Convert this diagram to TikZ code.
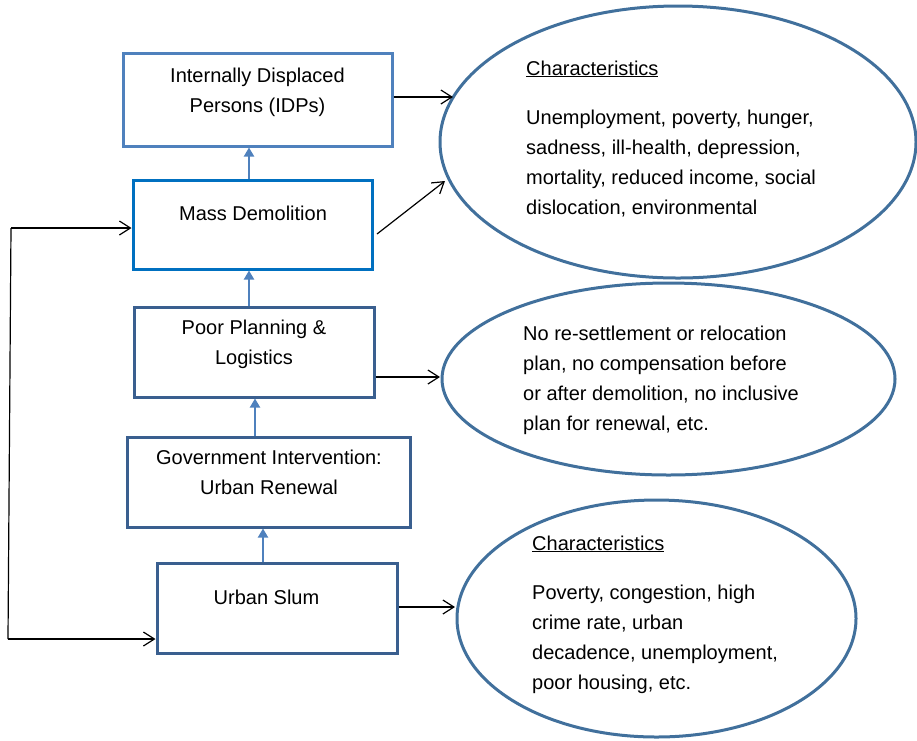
\documentclass[tikz,border=0pt]{standalone}
\usepackage{fontspec}
\setmainfont{Liberation Sans}
\usetikzlibrary{arrows.meta,shapes.geometric}
\definecolor{boxA}{HTML}{4F81BD}
\definecolor{boxB}{HTML}{0070C0}
\definecolor{boxC}{HTML}{3A5F8F}
\definecolor{ellc}{HTML}{41709C}
\definecolor{uparc}{HTML}{4F81BD}
\begin{document}
\begin{tikzpicture}[x=1pt,y=-1pt,
  box/.style={draw=#1, line width=3pt, rectangle, inner sep=0pt, fill=white},
  oval/.style={draw=ellc, line width=3pt, ellipse, inner sep=0pt},
  txt/.style={font=\fontsize{20}{30}\selectfont, inner sep=0pt, align=center, anchor=base},
  ltxt/.style={font=\fontsize{20}{30}\selectfont, inner sep=0pt, align=left, anchor=base west},
  uparr/.style={draw=uparc, line width=2pt, -{Triangle[length=9pt,width=10pt]}},
  blk/.style={draw=black, line width=1.2pt, -{Straight Barb[length=11pt,width=14pt]}},
  fbline/.style={draw=black, line width=1.2pt}
]
\useasboundingbox (0,0) rectangle (917,740);

% boxes
\node[box=boxA, minimum width=269pt, minimum height=93pt] (idp) at (257.5,99.5) {};
\node[box=boxB, minimum width=239pt, minimum height=89pt] (md) at (252.5,224.5) {};
\node[box=boxC, minimum width=240pt, minimum height=90pt] (pp) at (254,352) {};
\node[box=boxC, minimum width=283pt, minimum height=90pt] (gi) at (268.5,482) {};
\node[box=boxC, minimum width=240pt, minimum height=90pt] (us) at (277,608) {};

% box texts (base anchor = baseline of the last line)
\node[txt] (idpT) at (257.5,112) {Internally Displaced\\Persons (IDPs)};
\node[txt] (mdT) at (253,220) {Mass Demolition};
\node[txt] (ppT) at (254,364) {Poor Planning \&\\Logistics};
\node[txt] (giT) at (269,494) {Government Intervention:\\Urban Renewal};
\node[txt] (usT) at (266.5,604) {Urban Slum};

% ellipses
\node[oval, minimum width=476pt, minimum height=272pt] (e1) at (678,142) {};
\node[oval, minimum width=453pt, minimum height=192pt] (e2) at (668.5,379) {};
\node[oval, minimum width=399pt, minimum height=237pt] (e3) at (656.5,618.5) {};

% ellipse texts
\node[ltxt] (e1H) at (526,75) {\underline{Characteristics}};
\node[ltxt] (e1T) at (526,214) {Unemployment, poverty, hunger,\\sadness, ill-health, depression,\\mortality, reduced income, social\\dislocation, environmental};
\node[ltxt] (e2T) at (523,430) {No re-settlement or relocation\\plan, no compensation before\\or after demolition, no inclusive\\plan for renewal, etc.};
\node[ltxt] (e3H) at (532,550) {\underline{Characteristics}};
\node[ltxt] (e3T) at (532,689) {Poverty, congestion, high\\crime rate, urban\\decadence, unemployment,\\poor housing, etc.};

% upward blue arrows
\draw[uparr] ([xshift=-3.5pt]md.north) -- ([xshift=-3.5pt]md.north |- idp.south);
\draw[uparr] ([xshift=-5pt]pp.north) -- ([xshift=-5pt]pp.north |- md.south);
\draw[uparr] ([xshift=-13.5pt]gi.north) -- ([xshift=-13.5pt]gi.north |- pp.south);
\draw[uparr] ([xshift=-14pt]us.north) -- ([xshift=-14pt]us.north |- gi.south);

% black arrows to ellipses
\coordinate (e1a) at (453,97);
\coordinate (e1b) at (445,181);
\coordinate (mdout) at (377,234);
\draw[blk] (idp.east |- e1a) -- (e1a);
\draw[blk] (mdout) -- (e1b);
\coordinate (e2a) at (440,377);
\draw[blk] (pp.east |- e2a) -- (e2a);
\coordinate (e3a) at (455,607);
\draw[blk] (us.east |- e3a) -- (e3a);

% feedback loop
\coordinate (fbT) at (11,228);
\coordinate (fbB) at (8,639);
\draw[fbline] (fbT) -- (fbB);
\draw[blk] (fbT) -- (fbT -| md.west);
\draw[blk] (fbB) -- (fbB -| us.west);
\end{tikzpicture}
\end{document}
